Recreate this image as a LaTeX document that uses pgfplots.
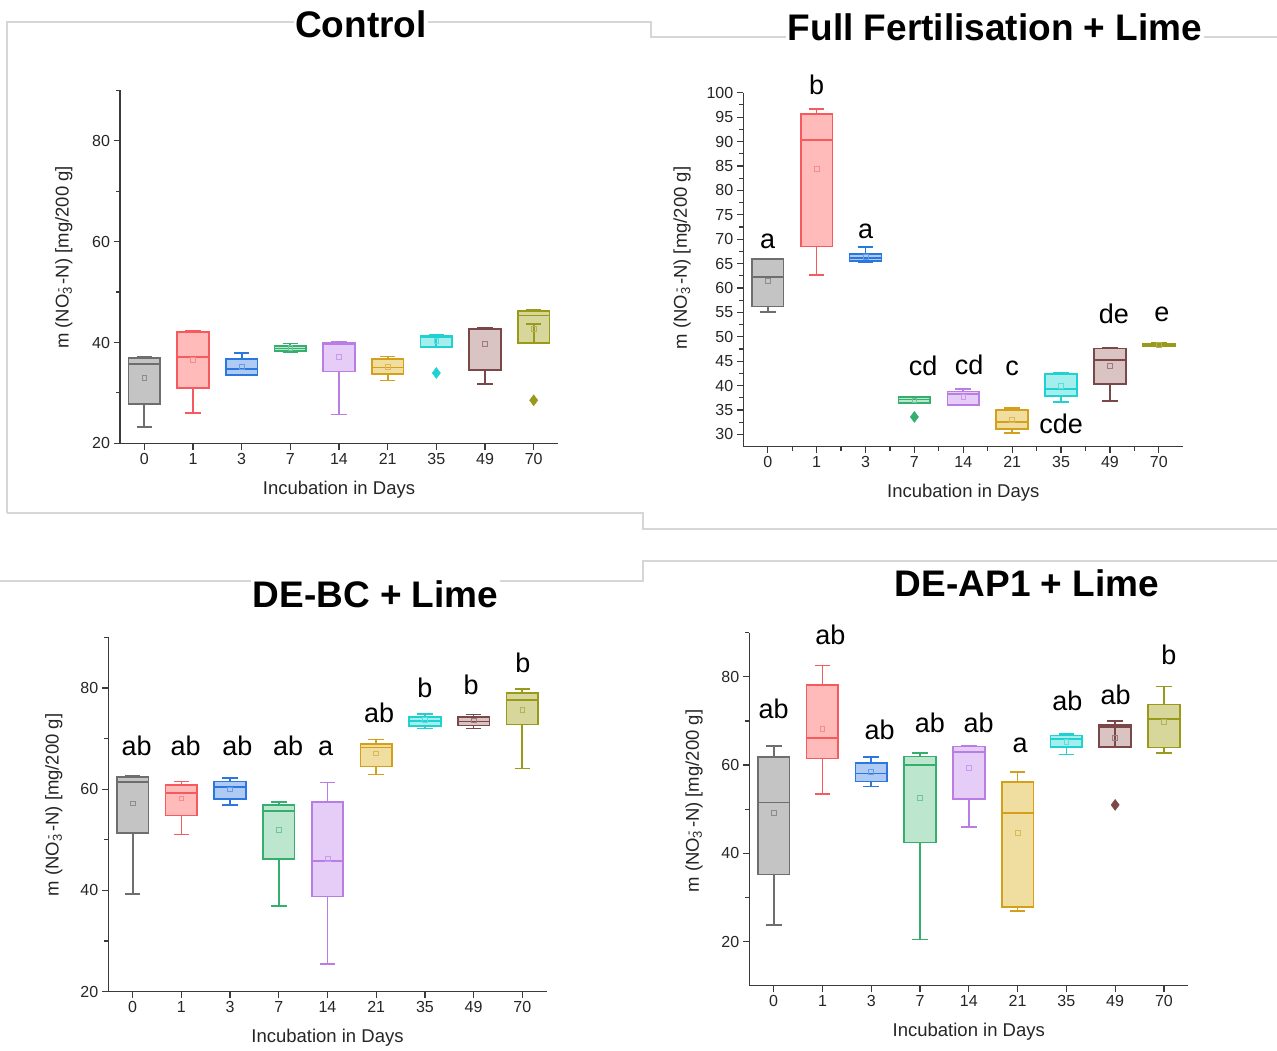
\documentclass[border=0pt]{standalone}
\usepackage{pgfplots}
\pgfplotsset{compat=1.18}
\usepgfplotslibrary{statistics}
\usepackage{fontspec}
\setmainfont{Liberation Sans}

% box colours: outline, fill, mean marker
\definecolor{c0}{HTML}{6E6E6E}\definecolor{c0F}{HTML}{C4C4C4}\definecolor{c0M}{HTML}{8C8C8C}
\definecolor{c1}{HTML}{F65A5E}\definecolor{c1F}{HTML}{FFBABA}\definecolor{c1M}{HTML}{F58C8C}
\definecolor{c2}{HTML}{2A77E0}\definecolor{c2F}{HTML}{AFCBF3}\definecolor{c2M}{HTML}{6A9BE8}
\definecolor{c3}{HTML}{35AE6E}\definecolor{c3F}{HTML}{BCE6CE}\definecolor{c3M}{HTML}{70C495}
\definecolor{c4}{HTML}{B97DE6}\definecolor{c4F}{HTML}{E6CDF7}\definecolor{c4M}{HTML}{C89AEE}
\definecolor{c5}{HTML}{D4A01C}\definecolor{c5F}{HTML}{F0DDA0}\definecolor{c5M}{HTML}{DDB755}
\definecolor{c6}{HTML}{1ED2D2}\definecolor{c6F}{HTML}{A5EEEE}\definecolor{c6M}{HTML}{5EDCDC}
\definecolor{c7}{HTML}{7A4848}\definecolor{c7F}{HTML}{D9C3C3}\definecolor{c7M}{HTML}{A07A7A}
\definecolor{c8}{HTML}{9A9A1A}\definecolor{c8F}{HTML}{D7D79C}\definecolor{c8M}{HTML}{B2B25A}
\definecolor{axc}{HTML}{3A3A3A}
\definecolor{framec}{HTML}{D6D6D6}

\newcommand\tickfont{\fontsize{16}{16}\selectfont}
\newcommand\labelfont{\fontsize{18.5}{18.5}\selectfont}
\newcommand\titlefont{\fontsize{37}{37}\selectfont\bfseries}
\newcommand\letterfont{\fontsize{27}{27}\selectfont}

% one box: position, colour index, lower whisker, Q1, median, Q3, upper whisker, mean
\newcommand\bx[8]{%
  \addplot[draw=c#2, fill=c#2F, line width=1.7pt,
    boxplot prepared={draw position=#1, lower whisker=#3, lower quartile=#4,
      median=#5, upper quartile=#6, upper whisker=#7,
      box extend=0.65, whisker extend=0.32}] coordinates {};
  \addplot[only marks, mark=square, mark size=2.4pt,
    mark options={draw=c#2M, line width=0.8pt, fill=none}] coordinates {(#1,#8)};
}
% single outlier
\newcommand\outl[3]{%
  \addplot[only marks, mark=diamond*, mark size=5.5pt, color=#2] coordinates {(#1,#3)};
}

\pgfplotsset{
  panel/.style={
    scale only axis, anchor=south west, clip=false,
    axis lines=left, axis line style={-, line width=1.5pt, color=axc},
    tick style={line width=1.2pt, color=axc},
    tick align=outside, major tick length=6.5pt, minor tick length=4pt,
    xmin=-0.5, xmax=8.5, xtick={0,...,8},
    xticklabels={0,1,3,7,14,21,35,49,70},
    ticklabel style={font=\tickfont, text=black!85},
    /pgf/number format/assume math mode=true,
    label style={font=\labelfont, text=black!85},
    xlabel={Incubation in Days},
    ylabel={m (NO\rlap{\textsubscript{3}}\textsuperscript{\,-}\,-N) [mg/200 g]},
    xlabel style={at={(axis description cs:0.5,-0.131)}, anchor=center},
    boxplot/draw direction=y,
  },
}
\tikzset{letter/.style={font=\letterfont, anchor=base, inner sep=0pt}}

\begin{document}
\begin{tikzpicture}
\useasboundingbox (0,0) rectangle (1277pt,1050pt);
\fill[white] (0,0) rectangle (1277pt,1050pt);

% panel frames
\begin{scope}[draw=framec, line width=1.2pt]
\draw (7pt,537pt) -- (7pt,1028pt) -- (651pt,1028pt) -- (651pt,1013pt) -- (1277pt,1013pt);
\draw (7pt,537pt) -- (643pt,537pt) -- (643pt,521pt) -- (1277pt,521pt);
\draw (0pt,469pt) -- (643pt,469pt) -- (643pt,489pt) -- (1277pt,489pt);
\end{scope}

% ---------------- Control ----------------
\begin{axis}[panel, at={(120pt,606.7pt)}, width=438pt, height=352.8pt,
  ymin=20, ymax=90, ytick={20,40,60,80}, minor ytick={30,50,70,90},
  ylabel style={at={(axis description cs:-0.128,0.527)}, anchor=center}]
\bx{0}{0}{23.24}{27.74}{35.8}{36.87}{37.13}{33.03}
\bx{1}{1}{26.02}{30.91}{37.13}{42.02}{42.35}{36.6}
\bx{2}{2}{33.49}{33.62}{34.81}{36.73}{37.86}{35.2}
\bx{3}{3}{37.99}{38.25}{38.78}{39.31}{39.78}{38.98}
\bx{4}{4}{25.69}{34.22}{39.64}{39.9}{40.1}{37.13}
\bx{5}{5}{32.43}{33.69}{35.01}{36.73}{37.2}{35.15}
\bx{6}{6}{39.11}{39.11}{41.0}{41.3}{41.56}{40.3}
\addplot[draw=c6, line width=1.7pt] coordinates {(6,39.11) (6,41.0)};
\outl{6}{c6}{33.95}
\bx{7}{7}{31.77}{34.48}{42.69}{42.69}{42.82}{39.71}
\bx{8}{8}{39.84}{39.84}{45.33}{46.19}{46.46}{42.62}
\addplot[draw=c8, line width=1.7pt] coordinates {(8,39.84) (8,43.61)};
\addplot[draw=c8, line width=1.7pt] coordinates {(7.84,43.61) (8.16,43.61)};
\outl{8}{c8}{28.53}
\end{axis}

% ---------------- Full Fertilisation + Lime ----------------
\begin{axis}[panel, at={(743.3pt,603.3pt)}, width=440pt, height=354pt,
  ymin=27.5, ymax=100, ytick={30,35,...,100}, minor tick num=1,
  ylabel style={at={(axis description cs:-0.139,0.533)}, anchor=center}]
\bx{0}{0}{55.05}{56.2}{62.2}{65.9}{66.05}{61.4}
\bx{1}{1}{62.6}{68.5}{90.3}{95.7}{96.65}{84.36}
\bx{2}{2}{65.3}{65.57}{66.2}{66.94}{68.4}{66.4}
\bx{3}{3}{36.48}{36.48}{37.16}{37.64}{37.77}{37.0}
\outl{3}{c3}{33.6}
\bx{4}{4}{36.07}{36.07}{38.3}{38.8}{39.34}{37.7}
\bx{5}{5}{30.33}{31.08}{32.51}{35.04}{35.38}{33.0}
\bx{6}{6}{36.61}{37.91}{39.34}{42.35}{42.55}{40.03}
\bx{7}{7}{36.82}{40.37}{45.22}{47.61}{47.68}{44.06}
\bx{8}{8}{48.0}{48.1}{48.36}{48.6}{48.7}{48.4}
\node[letter] at (axis cs:0,68.1) {a};
\node[letter] at (axis cs:1,99.7) {b};
\node[letter] at (axis cs:2,70.2) {a};
\node[letter] at (axis cs:3.18,42.15) {cd};
\node[letter] at (axis cs:4.12,42.36) {cd};
\node[letter] at (axis cs:5,42.15) {c};
\node[letter] at (axis cs:6,30.2) {cde};
\node[letter] at (axis cs:7.08,52.75) {de};
\node[letter] at (axis cs:8.06,53.1) {e};
\end{axis}

% ---------------- DE-BC + Lime ----------------
\begin{axis}[panel, at={(108.3pt,58.3pt)}, width=438.4pt, height=354.4pt,
  ymin=20, ymax=90, ytick={20,40,60,80}, minor ytick={30,50,70,90},
  ylabel style={at={(axis description cs:-0.124,0.527)}, anchor=center}]
\bx{0}{0}{39.31}{51.38}{61.46}{62.45}{62.7}{57.18}
\bx{1}{1}{51.05}{54.8}{59.22}{60.87}{61.53}{58.17}
\bx{2}{2}{56.9}{58.1}{60.47}{61.53}{62.25}{59.95}
\bx{3}{3}{36.88}{46.17}{55.73}{56.92}{57.44}{51.97}
\bx{4}{4}{25.47}{38.79}{45.84}{57.44}{61.33}{46.3}
\bx{5}{5}{62.91}{64.5}{68.25}{68.98}{69.84}{67.07}
\bx{6}{6}{72.01}{72.54}{73.53}{74.32}{74.91}{73.72}
\bx{7}{7}{72.01}{72.6}{73.4}{74.32}{74.78}{73.6}
\bx{8}{8}{64.1}{72.8}{77.55}{79.06}{79.85}{75.64}
\node[letter] at (axis cs:0.08,66.6) {ab};
\node[letter] at (axis cs:1.09,66.6) {ab};
\node[letter] at (axis cs:2.15,66.6) {ab};
\node[letter] at (axis cs:3.19,66.6) {ab};
\node[letter] at (axis cs:3.96,66.6) {a};
\node[letter] at (axis cs:5.06,73.24) {ab};
\node[letter] at (axis cs:6,78.1) {b};
\node[letter] at (axis cs:6.95,78.8) {b};
\node[letter] at (axis cs:8.01,83.1) {b};
\end{axis}

% ---------------- DE-AP1 + Lime ----------------
\begin{axis}[panel, at={(749.3pt,64.3pt)}, width=439pt, height=353pt,
  ymin=10, ymax=90, ytick={20,40,60,80}, minor ytick={30,50,70,90},
  ylabel style={at={(axis description cs:-0.126,0.523)}, anchor=center}]
\bx{0}{0}{23.76}{35.17}{51.5}{61.85}{64.35}{49.15}
\bx{1}{1}{53.39}{61.47}{66.16}{78.1}{82.56}{68.2}
\bx{2}{2}{55.12}{56.26}{58.07}{60.49}{61.78}{58.45}
\bx{3}{3}{20.5}{42.43}{60.04}{61.93}{62.76}{52.48}
\bx{4}{4}{45.98}{52.25}{62.99}{64.2}{64.35}{59.28}
\bx{5}{5}{26.86}{27.76}{49.08}{56.11}{58.45}{44.54}
\bx{6}{6}{62.38}{64.04}{65.93}{66.69}{67.07}{65.33}
\bx{7}{7}{64.12}{64.12}{68.58}{69.03}{70.02}{66.08}
\addplot[draw=c7, line width=1.7pt] coordinates {(7,64.12) (7,70.02)};
\outl{7}{c7}{50.97}
\bx{8}{8}{62.68}{63.97}{70.47}{73.72}{77.8}{69.71}
\node[letter] at (axis cs:0,70.6) {ab};
\node[letter] at (axis cs:1.16,87.26) {ab};
\node[letter] at (axis cs:2.17,65.87) {ab};
\node[letter] at (axis cs:3.2,67.37) {ab};
\node[letter] at (axis cs:4.2,67.37) {ab};
\node[letter] at (axis cs:5.05,62.83) {a};
\node[letter] at (axis cs:6.02,72.36) {ab};
\node[letter] at (axis cs:7.01,73.65) {ab};
\node[letter] at (axis cs:8.1,82.88) {b};
\end{axis}

% panel titles
\begin{scope}[every node/.style={font=\titlefont, fill=white, inner sep=1.5pt, anchor=base}]
\node at (361pt,1012pt) {Control};
\node at (995pt,1009pt) {Full Fertilisation + Lime};
\node at (375.5pt,442pt) {DE-BC + Lime};
\node at (1027pt,453pt) {DE-AP1 + Lime};
\end{scope}
\end{tikzpicture}
\end{document}
